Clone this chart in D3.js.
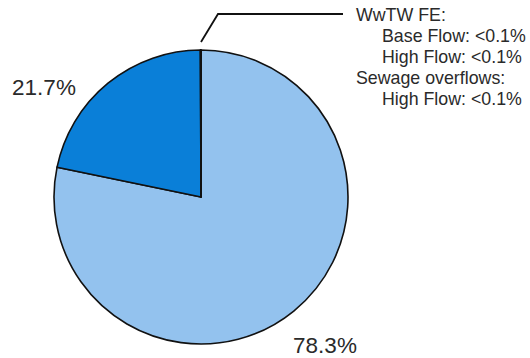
<!DOCTYPE html>
<html>
<head>
<meta charset="utf-8">
<script src="https://cdn.jsdelivr.net/npm/d3@7"></script>
<style>
  html, body { margin: 0; padding: 0; background: #fff; }
  svg { display: block; }
  text { font-family: "Liberation Sans", Arial, Helvetica, sans-serif; fill: #2a2a2a; }
</style>
</head>
<body>
<svg id="chart" width="530" height="358"></svg>
<script>
// Data
const categories = ["Other", "Main source", "WwTW FE Base Flow", "WwTW FE High Flow", "Sewage overflows High Flow"];
const values = [78.3, 21.7, 0.02, 0.02, 0.02];
const sliceLabels = ["78.3%", "21.7%", "", "", ""];
const calloutLines = ["WwTW FE:", "Base Flow: <0.1%", "High Flow: <0.1%", "Sewage overflows:", "High Flow: <0.1%"];
const calloutIndent = [false, true, true, false, true];
const colors = ["#93c2ee", "#0a7fd8", "#0a7fd8", "#0a7fd8", "#0a7fd8"];

const svg = d3.select("#chart");
const cx = 201, cy = 197, r = 147;
const g = svg.append("g").attr("transform", `translate(${cx},${cy})`);

const pie = d3.pie().sort(null).value(d => d.v);
const arcs = pie(values.map((v, i) => ({ v, i })));
const arc = d3.arc().innerRadius(0).outerRadius(r);

g.selectAll("path.slice")
  .data(arcs)
  .join("path")
  .attr("class", "slice")
  .attr("d", arc)
  .attr("fill", d => colors[d.data.i])
  .attr("stroke", "#111")
  .attr("stroke-width", 1.6)
  .attr("stroke-linejoin", "round");

// Percent labels
const labelPos = [
  { x: 325, y: 353, anchor: "middle" },
  { x: 44, y: 95, anchor: "middle" }
];
sliceLabels.forEach((t, i) => {
  if (!t) return;
  svg.append("text")
    .attr("x", labelPos[i].x)
    .attr("y", labelPos[i].y)
    .attr("text-anchor", labelPos[i].anchor)
    .attr("font-size", 22.5)
    .text(t);
});

// Leader line from top of pie (tiny slices) to callout
const topAngle = arcs[arcs.length - 1].endAngle;
const p0 = [cx + Math.sin(topAngle) * (r + 8), cy - Math.cos(topAngle) * (r + 8)];
svg.append("path")
  .attr("d", d3.line()([p0, [218, 14], [343, 14]]))
  .attr("fill", "none")
  .attr("stroke", "#111")
  .attr("stroke-width", 1.8);

// Callout text
calloutLines.forEach((t, i) => {
  svg.append("text")
    .attr("x", calloutIndent[i] ? 382 : 356)
    .attr("y", 20.5 + i * 21)
    .attr("font-size", 17.8)
    .text(t);
});
</script>
</body>
</html>
